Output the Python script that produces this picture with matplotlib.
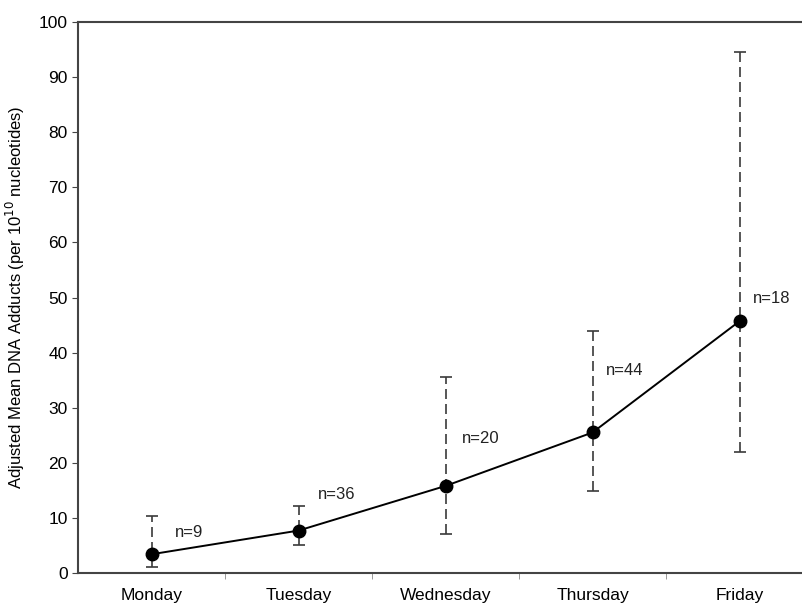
import matplotlib.pyplot as plt
import numpy as np

plt.rcParams['font.family'] = ['Liberation Sans', 'DejaVu Sans']

days = ['Monday', 'Tuesday', 'Wednesday', 'Thursday', 'Friday']
means = [3.4, 7.7, 15.8, 25.5, 45.7]
upper = [10.3, 12.2, 35.6, 44.0, 94.6]
lower = [1.1, 5.1, 7.1, 14.9, 22.0]
n_labels = ['n=9', 'n=36', 'n=20', 'n=44', 'n=18']
label_y = [7.3, 14.2, 24.5, 36.7, 49.9]

x = np.arange(len(days))
means = np.array(means)
yerr = [means - np.array(lower), np.array(upper) - means]

fig = plt.figure(figsize=(8.02, 6.05), dpi=100)
ax = fig.add_axes([78 / 802, 1 - 573 / 605, 724 / 802, 551 / 605])

eb = ax.errorbar(x, means, yerr=yerr, fmt='none', ecolor='#3a3a3a',
                 elinewidth=1.2, capsize=4, capthick=1.2)
eb[2][0].set_linestyle((0, (6, 3)))
ax.plot(x, means, color='black', linewidth=1.4, marker='o',
        markersize=9, zorder=3)

# horizontal nudges of the n= labels, in points
label_dx = [17, 14, 11.5, 9.5, 9.5]
for xi, lab, ly, dx in zip(x, n_labels, label_y, label_dx):
    ax.annotate(lab, xy=(xi, ly), xytext=(dx, 0), textcoords='offset points',
                ha='left', va='center', fontsize=12, color='#222222')

ax.set_xlim(-0.5, 4.425)
ax.set_ylim(0, 100)
ax.set_yticks(np.arange(0, 101, 10))
ax.set_xticks(x)
ax.set_xticklabels(days, fontsize=12.5)
ax.set_xticks(np.arange(0.5, 4, 1), minor=True)
ax.tick_params(axis='x', which='major', length=0, pad=11)
ax.tick_params(axis='x', which='minor', length=4, color='#888888', direction='out')
ax.tick_params(axis='y', labelsize=12.5, length=4, color='#444444')

for side in ['left', 'top', 'bottom']:
    ax.spines[side].set_color('#444444')
    ax.spines[side].set_linewidth(1.5)
ax.spines['right'].set_visible(False)

ax.set_ylabel(r'Adjusted Mean DNA Adducts (per 10$^{10}$ nucleotides)', fontsize=12)
ax.yaxis.set_label_coords(-0.07, 0.5)

fig.savefig('out.png', dpi=100)
